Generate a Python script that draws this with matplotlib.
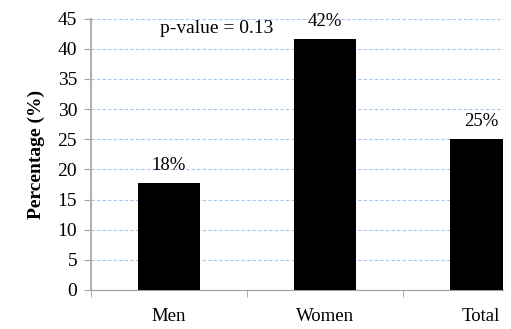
import matplotlib.pyplot as plt

groups = ['Men', 'Women', 'Total']
percent = [17.8, 41.6, 25.0]
bar_labels = ['18%', '42%', '25%']
yticks = list(range(0, 50, 5))

plt.rcParams['font.family'] = ['Liberation Serif', 'DejaVu Serif']

fig = plt.figure(figsize=(5.11, 3.29), dpi=100)
ax = fig.add_axes([91 / 511, 39 / 329, 412 / 511, 271.5 / 329])

x = list(range(len(groups)))
ax.bar(x, percent, width=0.4, color='black', zorder=3)

for i, lab in enumerate(bar_labels):
    ax.text(x[i], percent[i] + 1.5, lab, ha='center', va='bottom', fontsize=13.5)

ax.text(-0.06, 43.3, 'p-value = 0.13', ha='left', va='center', fontsize=14)

ax.set_xlim(-0.5, 2.141)
ax.set_ylim(0, 45)
ax.set_yticks(yticks)
ax.yaxis.grid(True, linestyle=(0, (3, 2)), color='#a8c6ea', linewidth=0.8, zorder=0)

ax.set_xticks(x)
ax.set_xticklabels(groups, fontsize=13.5)
ax.set_xticks([-0.5, 0.5, 1.5], minor=True)
ax.tick_params(axis='x', which='major', length=0, pad=13)
ax.tick_params(axis='x', which='minor', length=5, color='#a0a0a0', direction='out')
ax.tick_params(axis='y', length=5, color='#a0a0a0', labelsize=14, pad=5)

for s in ['top', 'right']:
    ax.spines[s].set_visible(False)
ax.spines['left'].set_color('#b0b0b0')
ax.spines['left'].set_linewidth(1.5)
ax.spines['bottom'].set_color('#a0a0a0')

ax.set_ylabel('Percentage (%)', fontsize=14, fontweight='bold', labelpad=9)

fig.savefig('out.png', dpi=100)
